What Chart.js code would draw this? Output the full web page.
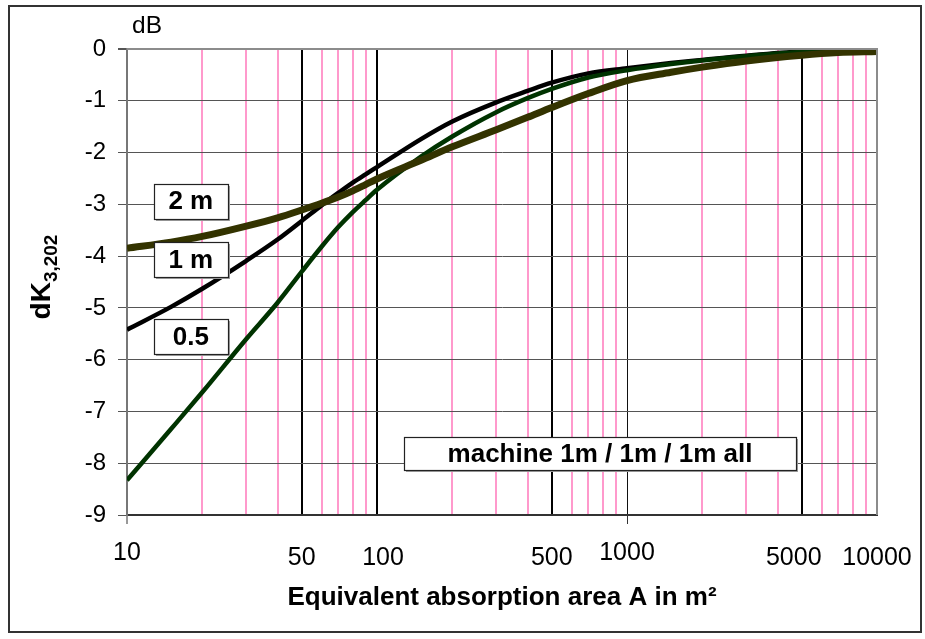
<!DOCTYPE html>
<html>
<head>
<meta charset="utf-8">
<script src="https://cdn.jsdelivr.net/npm/chart.js@4.4.1/dist/chart.umd.min.js"></script>
<style>
  html, body { margin: 0; padding: 0; background: #ffffff; }
  #wrap { width: 925px; height: 639px; }
</style>
</head>
<body>
<div id="wrap"><canvas id="chart" width="925" height="639"></canvas></div>
<script>
// Equivalent absorption area A (m²) at which each curve is sampled
const areaValues = [10, 15, 20, 30, 40, 50, 60, 70, 80, 90, 100, 150, 200, 300, 400, 500, 700, 1000, 1500, 2000, 3000, 5000, 7000, 10000];

// dK3,202 in dB for the three source distances
const dk2m  = [-3.85, -3.73, -3.62, -3.42, -3.26, -3.11, -2.98, -2.86, -2.74, -2.62, -2.51, -2.15, -1.89, -1.56, -1.32, -1.13, -0.86, -0.61, -0.45, -0.35, -0.23, -0.12, -0.07, -0.05];
const dk1m  = [-5.42, -4.98, -4.63, -4.09, -3.68, -3.32, -3.02, -2.78, -2.58, -2.42, -2.28, -1.74, -1.40, -1.03, -0.81, -0.65, -0.47, -0.37, -0.27, -0.21, -0.13, -0.05, -0.03, -0.02];
const dk05m = [-8.33, -7.34, -6.63, -5.60, -4.90, -4.30, -3.82, -3.44, -3.15, -2.92, -2.72, -2.08, -1.69, -1.22, -0.95, -0.77, -0.55, -0.41, -0.29, -0.22, -0.14, -0.06, -0.04, -0.03];

// x-axis tick labels and their values
const xTickValues = [10, 50, 100, 500, 1000, 5000, 10000];
const xTickLabels = ['10', '50', '100', '500', '1000', '5000', '10000'];

// vertical reference lines
const pinkLines  = [20, 30, 40, 60, 70, 80, 90, 200, 300, 400, 600, 700, 800, 900, 2000, 3000, 4000, 6000, 7000, 8000, 9000];
const blackLines = [50, 100, 500, 5000];
const majorLines = [10, 1000, 10000];

// y-axis range and step
const yMin = -9, yMax = 0, yStep = 1;

// curve captions and the note box, anchored in data units
const captions = [
  { text: '2 m',  a: 18,  db: -2.94, w: 74,  h: 35 },
  { text: '1 m',  a: 18,  db: -4.07, w: 74,  h: 35 },
  { text: '0.5',  a: 18,  db: -5.55, w: 74,  h: 35 },
  { text: 'machine 1m / 1m / 1m all', a: 780, db: -7.81, w: 392, h: 33 }
];

const FONT = '"Liberation Sans", Arial, Helvetica, sans-serif';

function pts(ys) { return areaValues.map((a, i) => ({ x: a, y: ys[i] })); }

const gridValues = [...majorLines, ...blackLines, ...pinkLines].sort((a, b) => a - b);

const decorPlugin = {
  id: 'decor',
  afterDraw(chart) {
    const ctx = chart.ctx;
    const ca = chart.chartArea;
    const xs = chart.scales.x, ys = chart.scales.y;
    ctx.save();

    // outer frame
    ctx.strokeStyle = '#333333';
    ctx.lineWidth = 2;
    ctx.strokeRect(9, 6, 912, 626);

    // top and right edges of the plot area
    ctx.strokeStyle = '#8c8c8c';
    ctx.lineWidth = 2;
    ctx.beginPath();
    ctx.moveTo(ca.left, ca.top);
    ctx.lineTo(ca.right, ca.top);
    ctx.lineTo(ca.right, ca.bottom);
    ctx.stroke();

    // x tick labels
    ctx.fillStyle = '#000';
    ctx.font = '25px ' + FONT;
    ctx.textAlign = 'center';
    ctx.textBaseline = 'middle';
    const nudge = { 100: 6, 5000: -8 };
    xTickValues.forEach((v, i) => {
      const px = xs.getPixelForValue(v) + (nudge[v] || 0);
      const py = (v === 10 || v === 1000) ? ca.bottom + 38 : ca.bottom + 43;
      ctx.fillText(xTickLabels[i], px, py);
    });

    // x-axis title
    ctx.font = 'bold 26px ' + FONT;
    ctx.fillText('Equivalent absorption area A in m²', (ca.left + ca.right) / 2, ca.bottom + 83);

    // unit label
    ctx.font = '24.5px ' + FONT;
    ctx.textAlign = 'left';
    ctx.fillText('dB', ca.left + 5, ca.top - 23);

    // y-axis title with subscript
    ctx.save();
    ctx.translate(50, (ca.top + ca.bottom) / 2 - 5);
    ctx.rotate(-Math.PI / 2);
    const mainFont = 'bold 28px ' + FONT, subFont = 'bold 19px ' + FONT;
    ctx.font = mainFont; const w1 = ctx.measureText('dK').width;
    ctx.font = subFont;  const w2 = ctx.measureText('3,202').width;
    const x0 = -(w1 + w2) / 2;
    ctx.textAlign = 'left';
    ctx.textBaseline = 'alphabetic';
    ctx.font = mainFont; ctx.fillText('dK', x0, 0);
    ctx.font = subFont;  ctx.fillText('3,202', x0 + w1, 7);
    ctx.restore();

    // caption boxes
    captions.forEach(c => {
      const cx = xs.getPixelForValue(c.a), cy = ys.getPixelForValue(c.db);
      const l = Math.round(cx - c.w / 2), t = Math.round(cy - c.h / 2);
      ctx.fillStyle = '#a0a0a0';
      ctx.fillRect(l + 2, t + 2, c.w, c.h);
      ctx.fillStyle = '#ffffff';
      ctx.fillRect(l, t, c.w, c.h);
      ctx.strokeStyle = '#222222';
      ctx.lineWidth = 1.2;
      ctx.strokeRect(l + 0.5, t + 0.5, c.w, c.h);
      ctx.fillStyle = '#000';
      ctx.font = 'bold 26px ' + FONT;
      ctx.textAlign = 'center';
      ctx.textBaseline = 'middle';
      ctx.fillText(c.text, cx, cy + 1);
    });
    ctx.restore();
  }
};

new Chart(document.getElementById('chart'), {
  type: 'line',
  data: {
    datasets: [
      { label: '2 m',  data: pts(dk2m),  borderColor: '#333300', borderWidth: 7,   order: 0 },
      { label: '0.5',  data: pts(dk05m), borderColor: '#003300', borderWidth: 4.5, order: 1 },
      { label: '1 m',  data: pts(dk1m),  borderColor: '#000000', borderWidth: 4.5, order: 2 }
    ]
  },
  options: {
    responsive: false,
    animation: false,
    devicePixelRatio: 1,
    layout: { padding: { left: 0, top: 49, right: 48, bottom: 0 } },
    elements: {
      point: { radius: 0 },
      line: { cubicInterpolationMode: 'monotone', fill: false, borderCapStyle: 'butt' }
    },
    plugins: { legend: { display: false }, tooltip: { enabled: false } },
    scales: {
      x: {
        type: 'logarithmic',
        min: 10,
        max: 10000,
        afterBuildTicks(scale) { scale.ticks = gridValues.map(v => ({ value: v })); },
        afterFit(scale) { scale.height = 124; },
        ticks: { display: false, autoSkip: false },
        grid: {
          drawTicks: true,
          tickLength: 9,
          color(c) {
            const v = c.tick && c.tick.value;
            if (v === 1000) return '#111111';
            if (blackLines.includes(v)) return '#000000';
            if (pinkLines.includes(v)) return '#ff99cc';
            return 'rgba(0,0,0,0)';
          },
          lineWidth(c) {
            const v = c.tick && c.tick.value;
            return v === 1000 ? 1 : 2;
          },
          tickColor(c) {
            const v = c.tick && c.tick.value;
            return (v === 10 || v === 1000) ? '#333333' : 'rgba(0,0,0,0)';
          },
          tickWidth: 1
        },
        border: { display: true, color: '#333333', width: 2 }
      },
      y: {
        type: 'linear',
        min: yMin,
        max: yMax,
        afterFit(scale) { scale.width = 127; },
        ticks: {
          stepSize: yStep,
          color: '#000',
          font: { family: FONT, size: 24 },
          padding: 12
        },
        grid: {
          drawTicks: true,
          tickLength: 9,
          color(c) {
            const v = c.tick && c.tick.value;
            if (v === yMin) return 'rgba(0,0,0,0)';
            if (v === yMax) return '#8c8c8c';
            return '#555555';
          },
          lineWidth(c) {
            const v = c.tick && c.tick.value;
            return v === yMax ? 2 : 1;
          },
          tickColor: '#555555'
        },
        border: { display: true, color: '#777777', width: 2 }
      }
    }
  },
  plugins: [decorPlugin]
});
</script>
</body>
</html>
